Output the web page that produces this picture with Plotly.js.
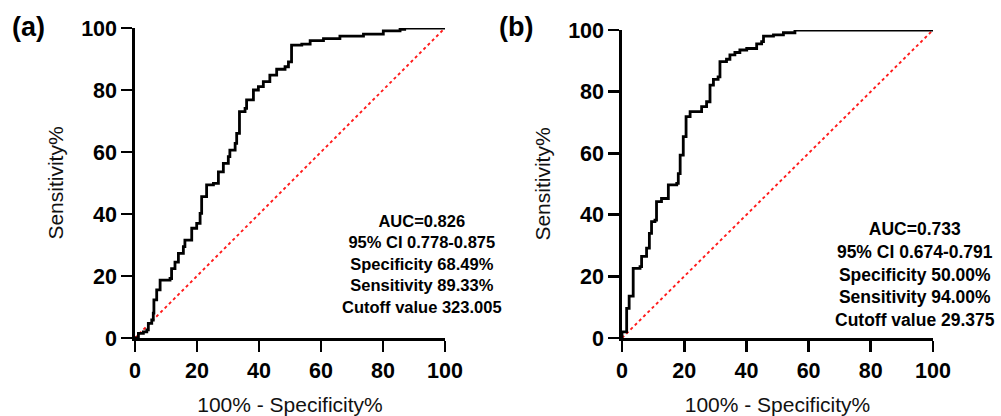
<!DOCTYPE html>
<html>
<head>
<meta charset="utf-8">
<script src="https://cdn.plot.ly/plotly-3.0.1.min.js"></script>
<style>html,body{margin:0;padding:0;background:#fff;}#chart{width:1001px;height:416px;}</style>
</head>
<body>
<div id="chart"></div>
<script>
// Panel (a) ROC curve (100% - Specificity%, Sensitivity%)
const fprA = [0, 1.1, 2.7, 3.8, 4.3, 5.4, 5.9, 6.1, 7.0, 8.1, 11.3, 11.8, 12.9, 14.0, 15.6, 16.1, 18.3, 19.9, 21.0, 21.5, 23.1, 25.3, 26.9, 28.5, 30.1, 30.6, 32.3, 32.8, 33.7, 35.5, 36.0, 38.2, 39.8, 41.4, 43.5, 45.7, 48.4, 49.5, 50.5, 53.8, 56.5, 60.8, 66.1, 73.7, 80.1, 85.5, 87.0, 100];
const tprA = [0, 1.5, 2.0, 2.6, 4.7, 5.8, 8.0, 12.3, 15.5, 18.7, 19.2, 22.4, 24.5, 27.3, 29.5, 31.6, 35.4, 37.0, 40.2, 45.6, 49.4, 49.9, 53.6, 56.3, 58.5, 60.6, 62.8, 66.0, 73.0, 74.1, 76.8, 80.0, 81.1, 82.7, 84.8, 86.7, 87.5, 89.1, 94.5, 94.8, 95.9, 96.6, 97.4, 98.0, 99.1, 99.6, 100, 100];

// Panel (b) ROC curve
const fprB = [0, 0, 1.5, 2.3, 3.6, 5.8, 6.3, 7.9, 8.8, 9.5, 10.6, 11.1, 12.7, 14.9, 17.6, 18.1, 18.7, 19.7, 20.6, 21.9, 25.6, 27.2, 28.3, 29.4, 30.9, 31.5, 33.6, 34.7, 36.3, 37.9, 40.1, 43.3, 44.9, 45.5, 48.7, 51.9, 55.6, 100];
const tprB = [0, 2.0, 9.6, 13.6, 22.6, 23.2, 26.5, 29.2, 34.0, 37.8, 38.3, 44.3, 45.3, 49.7, 50.2, 53.4, 59.4, 65.4, 71.9, 73.5, 75.1, 76.7, 82.1, 84.0, 84.8, 89.7, 90.5, 91.9, 92.7, 93.5, 94.0, 95.5, 96.2, 98.0, 98.4, 99.1, 100, 100];

// Reference (chance) line
const refX = [0, 100];
const refY = [0, 100];

const tickVals = [0, 20, 40, 60, 80, 100];
const tickText = ["0", "20", "40", "60", "80", "100"];

const statsA = ["AUC=0.826", "95% CI 0.778-0.875", "Specificity 68.49%", "Sensitivity 89.33%", "Cutoff value 323.005"];
const statsB = ["AUC=0.733", "95% CI 0.674-0.791", "Specificity 50.00%", "Sensitivity 94.00%", "Cutoff value 29.375"];
const panelLabels = ["(a)", "(b)"];
const xTitle = "100% - Specificity%";
const yTitle = "Sensitivity%";

const FONT = "Liberation Sans, Arial, Helvetica, sans-serif";

const curve = (x, y, xa, ya) => ({
  x: x, y: y, xaxis: xa, yaxis: ya, type: "scatter", mode: "lines",
  line: {color: "#000", width: 2.8, shape: "hv"}, cliponaxis: false, hoverinfo: "skip"
});
const diag = (xa, ya) => ({
  x: refX, y: refY, xaxis: xa, yaxis: ya, type: "scatter", mode: "lines",
  line: {color: "#ff1a1a", width: 1.9, dash: "dot"}, cliponaxis: false, hoverinfo: "skip"
});

const data = [diag("x", "y"), curve(fprA, tprA, "x", "y"), diag("x2", "y2"), curve(fprB, tprB, "x2", "y2")];

const axisBase = {
  range: [0, 100], tickvals: tickVals, ticktext: tickText,
  showgrid: false, zeroline: false, showline: true, linecolor: "#000", linewidth: 2.7,
  ticks: "outside", ticklen: 11, tickwidth: 2.7, tickcolor: "#000",
  tickfont: {family: FONT, size: 21.5, color: "#000", weight: "bold"},
  fixedrange: true
};
const xAxis = (dom, anchor) => Object.assign({}, axisBase, {
  domain: dom, anchor: anchor,
  title: {text: xTitle, font: {family: FONT, size: 21, color: "#111"}, standoff: 16}
});
const yAxis = (dom, anchor) => Object.assign({}, axisBase, {
  domain: dom, anchor: anchor,
  title: {text: yTitle, font: {family: FONT, size: 21, color: "#111"}, standoff: 12}
});

const annA = {
  xref: "x", yref: "y", x: 92.6, y: 24.0, xanchor: "center", yanchor: "middle",
  text: statsA.join("<br>"), showarrow: false, align: "center",
  font: {family: FONT, size: 16.5, color: "#000", weight: "bold"}
};
const annB = {
  xref: "x2", yref: "y2", x: 94.2, y: 20.5, xanchor: "center", yanchor: "middle",
  text: statsB.join("<br>"), showarrow: false, align: "center",
  font: {family: FONT, size: 17.5, color: "#000", weight: "bold"}
};
const labA = {
  xref: "paper", yref: "paper", x: 28 / 1001, y: 1 - 27 / 416, xanchor: "center", yanchor: "middle",
  text: panelLabels[0], showarrow: false, font: {family: FONT, size: 27, color: "#000", weight: "bold"}
};
const labB = {
  xref: "paper", yref: "paper", x: 516 / 1001, y: 1 - 27 / 416, xanchor: "center", yanchor: "middle",
  text: panelLabels[1], showarrow: false, font: {family: FONT, size: 27, color: "#000", weight: "bold"}
};

const layout = {
  width: 1001, height: 416,
  margin: {l: 0, r: 0, t: 0, b: 0},
  paper_bgcolor: "#fff", plot_bgcolor: "#fff",
  showlegend: false,
  xaxis: xAxis([135 / 1001, 445 / 1001], "y"),
  yaxis: yAxis([(416 - 338) / 416, (416 - 28) / 416], "x"),
  xaxis2: xAxis([622 / 1001, 933 / 1001], "y2"),
  yaxis2: yAxis([(416 - 338) / 416, (416 - 30) / 416], "x2"),
  annotations: [annA, annB, labA, labB]
};

Plotly.newPlot("chart", data, layout, {displayModeBar: false, staticPlot: true});
</script>
</body>
</html>
